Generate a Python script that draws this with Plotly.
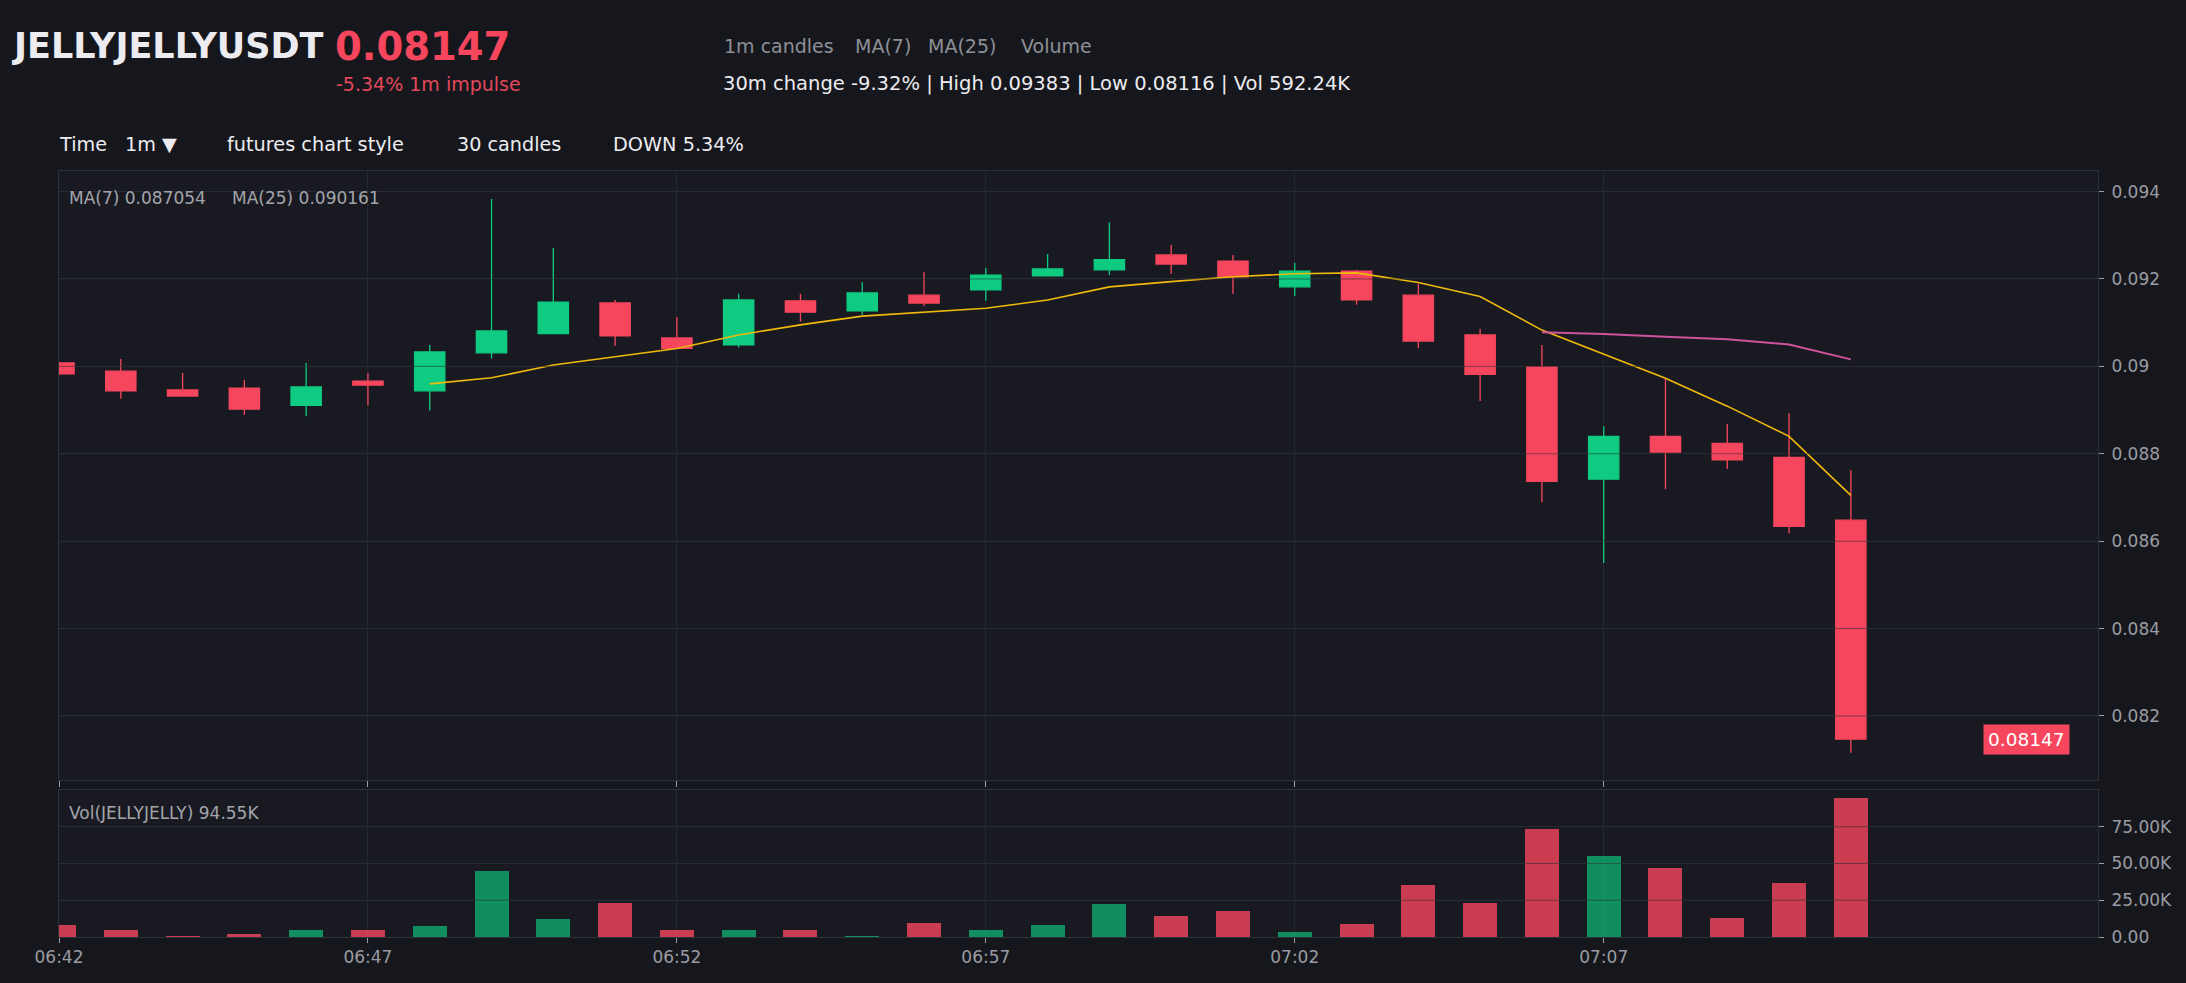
import plotly.graph_objects as go

# ---------------- data ----------------
times = [
    "2025-01-01 06:42", "2025-01-01 06:43", "2025-01-01 06:44", "2025-01-01 06:45", "2025-01-01 06:46",
    "2025-01-01 06:47", "2025-01-01 06:48", "2025-01-01 06:49", "2025-01-01 06:50", "2025-01-01 06:51",
    "2025-01-01 06:52", "2025-01-01 06:53", "2025-01-01 06:54", "2025-01-01 06:55", "2025-01-01 06:56",
    "2025-01-01 06:57", "2025-01-01 06:58", "2025-01-01 06:59", "2025-01-01 07:00", "2025-01-01 07:01",
    "2025-01-01 07:02", "2025-01-01 07:03", "2025-01-01 07:04", "2025-01-01 07:05", "2025-01-01 07:06",
    "2025-01-01 07:07", "2025-01-01 07:08", "2025-01-01 07:09", "2025-01-01 07:10", "2025-01-01 07:11",
]
opens = [0.09008, 0.08989, 0.08946, 0.08950, 0.08911, 0.08966, 0.08944, 0.09031, 0.09075, 0.09145,
         0.09065, 0.09049, 0.09150, 0.09127, 0.09163, 0.09175, 0.09207, 0.09221, 0.09255, 0.09241,
         0.09182, 0.09218, 0.09163, 0.09072, 0.08999, 0.08742, 0.08840, 0.08824, 0.08792, 0.08648]
highs = [0.09010, 0.09017, 0.08985, 0.08969, 0.09008, 0.08985, 0.09049, 0.09383, 0.09271, 0.09152,
         0.09113, 0.09166, 0.09166, 0.09193, 0.09216, 0.09225, 0.09257, 0.09329, 0.09278, 0.09255,
         0.09237, 0.09221, 0.09189, 0.09086, 0.09049, 0.08863, 0.08973, 0.08868, 0.08893, 0.08763]
lows = [0.08980, 0.08926, 0.08932, 0.08889, 0.08886, 0.08911, 0.08899, 0.09018, 0.09075, 0.09047,
        0.09040, 0.09043, 0.09102, 0.09118, 0.09138, 0.09150, 0.09205, 0.09209, 0.09212, 0.09166,
        0.09161, 0.09141, 0.09042, 0.08921, 0.08689, 0.08550, 0.08719, 0.08765, 0.08618, 0.08116]
closes = [0.08983, 0.08944, 0.08932, 0.08902, 0.08953, 0.08957, 0.09033, 0.09081, 0.09147, 0.09070,
          0.09041, 0.09152, 0.09124, 0.09168, 0.09145, 0.09209, 0.09223, 0.09244, 0.09234, 0.09205,
          0.09218, 0.09152, 0.09058, 0.08982, 0.08737, 0.08840, 0.08804, 0.08786, 0.08634, 0.08147]
ma7 = [None, None, None, None, None, None,
       0.08960, 0.08974, 0.09003, 0.09022, 0.09041, 0.09072, 0.09095, 0.09115, 0.09124,
       0.09133, 0.09152, 0.09182, 0.09194, 0.09205, 0.09212, 0.09214, 0.09192, 0.09160,
       0.09083, 0.09028, 0.08973, 0.08909, 0.08840, 0.08705]
ma25 = [None] * 24 + [0.09078, 0.09074, 0.09068, 0.09062, 0.09050, 0.09016]
volumes = [8000, 4500, 400, 1800, 4500, 4500, 7300, 44800, 12000, 23400,
           4500, 4500, 4500, 400, 9300, 5000, 8000, 22700, 14300, 18000,
           3200, 9000, 35600, 23000, 73200, 55000, 46800, 12700, 36500, 94550]

price_ticks = [0.082, 0.084, 0.086, 0.088, 0.090, 0.092, 0.094]
price_tick_text = ["0.082", "0.084", "0.086", "0.088", "0.09", "0.092", "0.094"]
vol_ticks = [0, 25000, 50000, 75000]
vol_tick_text = ["0.00", "25.00K", "50.00K", "75.00K"]
time_ticks = ["2025-01-01 06:42", "2025-01-01 06:47", "2025-01-01 06:52",
              "2025-01-01 06:57", "2025-01-01 07:02", "2025-01-01 07:07"]
time_tick_text = ["06:42", "06:47", "06:52", "06:57", "07:02", "07:07"]
x_range = ["2025-01-01 06:42", "2025-01-01 07:15"]
price_range = [0.080535, 0.094471]
vol_range = [0, 100000]

# ---------------- style ----------------
W, H = 2186, 983
ML, MR, MT, MB = 58.5, 88, 171, 46
PW, PH = W - ML - MR, H - MT - MB

def px_x(px):
    return (px - ML) / PW

def px_y(py):
    return (H - MB - py) / PH

GREEN = "#0ecb81"
RED = "#f6465d"
PAPER = "#16171d"
PLOT = "#191a21"
GRID = "#2a2d34"
VGRID = "#24272d"
FRAME = "#2e3139"
TICKC = "#9a9ca3"
FONT = "DejaVu Sans"

vol_colors = ["rgba(14,203,129,0.66)" if c >= o else "rgba(246,70,93,0.80)" for o, c in zip(opens, closes)]

fig = go.Figure()
fig.add_trace(go.Candlestick(
    x=times, open=opens, high=highs, low=lows, close=closes,
    increasing=dict(line=dict(color=GREEN, width=1.3), fillcolor=GREEN),
    decreasing=dict(line=dict(color=RED, width=1.3), fillcolor=RED),
    whiskerwidth=0, showlegend=False, hoverinfo="skip", xaxis="x", yaxis="y",
))
fig.add_trace(go.Scatter(x=times, y=ma7, mode="lines", line=dict(color="#f0b90b", width=1.6),
                         showlegend=False, hoverinfo="skip", xaxis="x", yaxis="y"))
fig.add_trace(go.Scatter(x=times, y=ma25, mode="lines", line=dict(color="#cf529c", width=2),
                         showlegend=False, hoverinfo="skip", xaxis="x", yaxis="y"))
fig.add_trace(go.Bar(x=times, y=volumes, width=33000, marker=dict(color=vol_colors, line=dict(width=0)),
                     showlegend=False, hoverinfo="skip", xaxis="x2", yaxis="y2"))

axis_common = dict(showline=True, mirror=True, linecolor=FRAME, linewidth=1, zeroline=False,
                   tickfont=dict(family=FONT, size=17, color=TICKC), tickcolor=TICKC)

fig.update_layout(
    width=W, height=H, autosize=False,
    paper_bgcolor=PAPER, plot_bgcolor=PLOT,
    margin=dict(l=ML, r=MR, t=MT, b=MB, pad=0),
    font=dict(family=FONT, color="#e6e6e8"),
    showlegend=False,
    bargap=0,
    xaxis=dict(domain=[0, 1], anchor="y", range=x_range, type="date",
               tickvals=time_ticks, ticktext=time_tick_text, showticklabels=False,
               ticks="outside", ticklen=6, showgrid=True, gridcolor=VGRID,
               rangeslider=dict(visible=False), **axis_common),
    yaxis=dict(domain=[px_y(780), 1], anchor="x", side="right", range=price_range,
               tickvals=price_ticks, ticktext=price_tick_text, ticks="outside", ticklen=5,
               ticklabelstandoff=4, showgrid=True, gridcolor=GRID, **axis_common),
    xaxis2=dict(domain=[0, 1], anchor="y2", range=x_range, type="date",
                tickvals=time_ticks, ticktext=time_tick_text, ticks="outside", ticklen=5,
                showgrid=True, gridcolor=VGRID, **axis_common),
    yaxis2=dict(domain=[0, px_y(790)], anchor="x2", side="right", range=vol_range,
                tickvals=vol_ticks, ticktext=vol_tick_text, ticks="outside", ticklen=5,
                ticklabelstandoff=4, showgrid=True, gridcolor=GRID, **axis_common),
)

# grid lines drawn again above the marks (as in the reference, where they cross bodies/bars)
for v in price_ticks:
    fig.add_shape(type="line", xref="x domain", yref="y", x0=0, x1=1, y0=v, y1=v,
                  line=dict(color="rgba(40,42,50,0.55)", width=1), layer="above")
for v in vol_ticks[1:]:
    fig.add_shape(type="line", xref="x2 domain", yref="y2", x0=0, x1=1, y0=v, y1=v,
                  line=dict(color="rgba(40,42,50,0.55)", width=1), layer="above")

def note(text, px, py, size, color, bold=False, **kw):
    if bold:
        text = "<b>" + text + "</b>"
    fig.add_annotation(text=text, xref="paper", yref="paper", x=px_x(px), y=px_y(py),
                       xanchor="left", yanchor="middle", showarrow=False,
                       font=dict(family=FONT, size=size, color=color), **kw)

# header
note("JELLYJELLYUSDT", 9, 46, 35, "#ececf0", bold=True)
note("0.08147", 333, 46, 38.5, RED, bold=True)
note("-5.34% 1m impulse", 334, 84, 19, "#e2475c")
note("1m candles", 722, 46, 19, "#8d9097")
note("MA(7)", 853, 46, 19, "#8d9097")
note("MA(25)", 926, 46, 19, "#8d9097")
note("Volume", 1019, 46, 19, "#8d9097")
note("30m change -9.32% | High 0.09383 | Low 0.08116 | Vol 592.24K", 721, 84, 19.5, "#ececf0")
# toolbar
note("Time", 56, 145, 19.2, "#ececf0")
note("1m ▼", 123, 145, 19.2, "#ececf0")
note("futures chart style", 225, 145, 19.3, "#ececf0")
note("30 candles", 455, 145, 19.2, "#ececf0")
note("DOWN 5.34%", 611, 145, 19.3, "#ececf0")
# in-panel labels
note("MA(7) 0.087054", 67, 198, 17, "#a3a5ab")
note("MA(25) 0.090161", 230, 198, 17, "#a3a5ab")
note("Vol(JELLYJELLY) 94.55K", 67, 813, 17, "#a3a5ab")

# last price tag
fig.add_annotation(text=f"{closes[-1]:.5f}", xref="paper", yref="y", x=px_x(2026), y=closes[-1],
                   xanchor="center", yanchor="middle", showarrow=False,
                   font=dict(family=FONT, size=18.5, color="#ffffff"),
                   bgcolor=RED, borderpad=4)

fig.write_html("out.html")
